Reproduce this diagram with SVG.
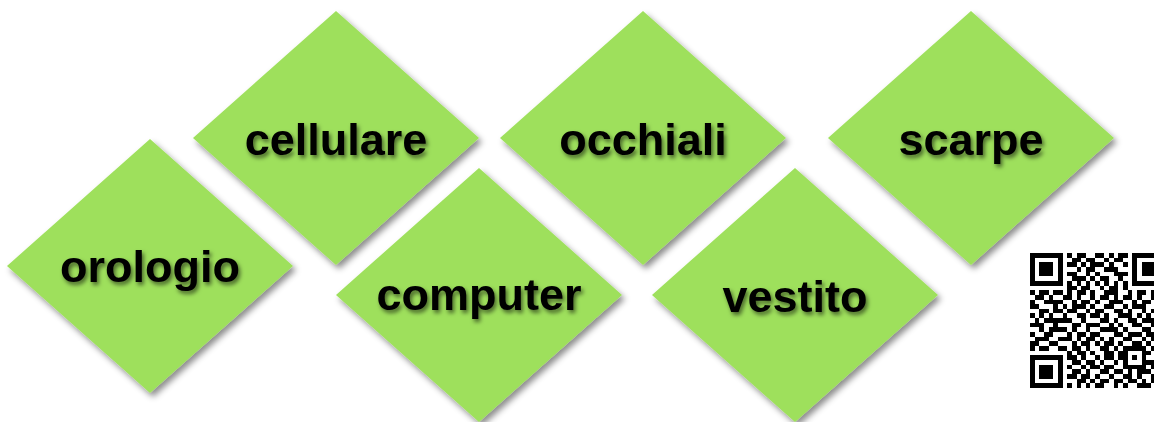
<svg xmlns="http://www.w3.org/2000/svg" width="1154" height="422" viewBox="0 0 1154 422">
<defs>
<filter id="dshadow" x="-10%" y="-10%" width="125%" height="125%">
<feDropShadow dx="3" dy="4" stdDeviation="3" flood-color="#000" flood-opacity="0.45"/>
</filter>
<filter id="tshadow" x="-10%" y="-30%" width="125%" height="170%">
<feDropShadow dx="2" dy="3" stdDeviation="2.2" flood-color="#000" flood-opacity="0.55"/>
</filter>
<polygon id="dia" points="0,-127 143,0 0,127 -143,0"/>
</defs>
<style>
.d{fill:#9ee05c;filter:url(#dshadow)}
.t{font-family:"Liberation Sans",Arial,Helvetica,sans-serif;font-weight:bold;font-size:45px;fill:#000;text-anchor:middle;filter:url(#tshadow)}
</style>
<rect width="1154" height="422" fill="#fff"/>
<g id="node-orologio" transform="translate(150 266)"><use href="#dia" class="d"/><text class="t" x="0" y="16">orologio</text></g>
<g id="node-cellulare" transform="translate(336 138)"><use href="#dia" class="d"/><text class="t" x="0" y="17">cellulare</text></g>
<g id="node-occhiali" transform="translate(643 138)"><use href="#dia" class="d"/><text class="t" x="0" y="17">occhiali</text></g>
<g id="node-scarpe" transform="translate(971 138)"><use href="#dia" class="d"/><text class="t" x="0" y="17">scarpe</text></g>
<g id="node-computer" transform="translate(479 295)"><use href="#dia" class="d"/><text class="t" x="0" y="15">computer</text></g>
<g id="node-vestito" transform="translate(795 295)"><use href="#dia" class="d"/><text class="t" x="0" y="17">vestito</text></g>
<g id="connectors"/>
<g id="qr" transform="translate(1030 253) scale(4.65)" fill="#000" shape-rendering="crispEdges">
<path fill-rule="evenodd" d="M0 0h7v7h-7z M1 1v5h5v-5z M2 2h3v3h-3z M22 0h7v7h-7z M23 1v5h5v-5z M24 2h3v3h-3z M0 22h7v7h-7z M1 23v5h5v-5z M2 24h3v3h-3z M20 20h5v5h-5z M21 21v3h3v-3z M22 22h1v1h-1z"/>
<path d="M8 0h1v1h-1z M10 0h2v1h-2z M14 0h2v1h-2z M17 0h1v1h-1z M19 0h2v1h-2z
M9 1h2v1h-2z M12 1h2v1h-2z M16 1h1v1h-1z M18 1h2v1h-2z
M8 2h2v1h-2z M11 2h1v1h-1z M13 2h3v1h-3z M17 2h1v1h-1z M20 2h1v1h-1z
M10 3h1v1h-1z M12 3h2v1h-2z M16 3h3v1h-3z
M8 4h2v1h-2z M12 4h1v1h-1z M14 4h1v1h-1z M18 4h3v1h-3z
M9 5h3v1h-3z M13 5h1v1h-1z M15 5h2v1h-2z M19 5h1v1h-1z
M8 6h1v1h-1z M10 6h1v1h-1z M12 6h1v1h-1z M14 6h1v1h-1z M16 6h1v1h-1z M18 6h1v1h-1z M20 6h1v1h-1z
M8 7h2v1h-2z M11 7h2v1h-2z M15 7h1v1h-1z M17 7h2v1h-2z M20 7h1v1h-1z
M0 8h1v1h-1z M2 8h2v1h-2z M5 8h2v1h-2z M8 8h1v1h-1z M10 8h2v1h-2z M13 8h1v1h-1z M16 8h3v1h-3z M21 8h1v1h-1z M23 8h2v1h-2z M26 8h1v1h-1z
M1 9h2v1h-2z M4 9h1v1h-1z M7 9h2v1h-2z M10 9h1v1h-1z M13 9h1v1h-1z M15 9h2v1h-2z M18 9h1v1h-1z M20 9h2v1h-2z M23 9h1v1h-1z M26 9h1v1h-1z M28 9h1v1h-1z
M0 10h1v1h-1z M3 10h4v1h-4z M9 10h1v1h-1z M11 10h2v1h-2z M14 10h1v1h-1z M17 10h3v1h-3z M22 10h1v1h-1z M24 10h2v1h-2z M27 10h1v1h-1z
M0 11h2v1h-2z M5 11h1v1h-1z M7 11h1v1h-1z M9 11h3v1h-3z M13 11h1v1h-1z M16 11h2v1h-2z M20 11h1v1h-1z M22 11h3v1h-3z M27 11h2v1h-2z
M2 12h2v1h-2z M5 12h2v1h-2z M8 12h2v1h-2z M12 12h1v1h-1z M14 12h2v1h-2z M18 12h2v1h-2z M21 12h1v1h-1z M24 12h1v1h-1z M26 12h2v1h-2z
M0 13h1v1h-1z M2 13h1v1h-1z M4 13h1v1h-1z M7 13h1v1h-1z M10 13h2v1h-2z M13 13h2v1h-2z M16 13h1v1h-1z M19 13h3v1h-3z M23 13h1v1h-1z M25 13h1v1h-1z M28 13h1v1h-1z
M1 14h1v1h-1z M3 14h6v1h-6z M11 14h1v1h-1z M15 14h2v1h-2z M18 14h1v1h-1z M21 14h2v1h-2z M24 14h3v1h-3z
M0 15h3v1h-3z M5 15h1v1h-1z M9 15h2v1h-2z M12 15h3v1h-3z M17 15h1v1h-1z M19 15h1v1h-1z M22 15h2v1h-2z M26 15h3v1h-3z
M2 16h1v1h-1z M4 16h4v1h-4z M9 16h1v1h-1z M12 16h1v1h-1z M15 16h4v1h-4z M20 16h1v1h-1z M24 16h2v1h-2z M27 16h1v1h-1z
M0 17h1v1h-1z M3 17h2v1h-2z M8 17h1v1h-1z M10 17h2v1h-2z M13 17h2v1h-2z M18 17h2v1h-2z M21 17h3v1h-3z M25 17h2v1h-2z M28 17h1v1h-1z
M1 18h3v1h-3z M6 18h3v1h-3z M10 18h1v1h-1z M12 18h2v1h-2z M15 18h1v1h-1z M17 18h1v1h-1z M20 18h2v1h-2z M24 18h1v1h-1z M26 18h2v1h-2z
M0 19h2v1h-2z M4 19h2v1h-2z M9 19h1v1h-1z M11 19h2v1h-2z M14 19h1v1h-1z M16 19h2v1h-2z M19 19h1v1h-1z M22 19h2v1h-2z M25 19h1v1h-1z M28 19h1v1h-1z
M0 20h1v1h-1z M2 20h2v1h-2z M6 20h2v1h-2z M9 20h2v1h-2z M12 20h1v1h-1z M15 20h2v1h-2z M18 20h1v1h-1z M26 20h2v1h-2z
M8 21h1v1h-1z M10 21h2v1h-2z M13 21h1v1h-1z M16 21h2v1h-2z M19 21h1v1h-1z M25 21h1v1h-1z M27 21h1v1h-1z
M8 22h2v1h-2z M11 22h1v1h-1z M14 22h1v1h-1z M16 22h2v1h-2z M19 22h1v1h-1z M27 22h2v1h-2z
M9 23h2v1h-2z M12 23h2v1h-2z M15 23h1v1h-1z M18 23h1v1h-1z M25 23h2v1h-2z M28 23h1v1h-1z
M8 24h1v1h-1z M11 24h1v1h-1z M13 24h2v1h-2z M16 24h2v1h-2z M26 24h1v1h-1z
M9 25h2v1h-2z M12 25h1v1h-1z M15 25h2v1h-2z M18 25h2v1h-2z M21 25h1v1h-1z M23 25h3v1h-3z M27 25h1v1h-1z
M8 26h2v1h-2z M11 26h2v1h-2z M14 26h1v1h-1z M17 26h1v1h-1z M20 26h2v1h-2z M23 26h1v1h-1z M26 26h1v1h-1z M28 26h1v1h-1z
M10 27h2v1h-2z M13 27h1v1h-1z M15 27h2v1h-2z M18 27h2v1h-2z M21 27h2v1h-2z M24 27h1v1h-1z M26 27h2v1h-2z
M8 28h1v1h-1z M10 28h1v1h-1z M12 28h1v1h-1z M14 28h2v1h-2z M18 28h1v1h-1z M20 28h1v1h-1z M23 28h3v1h-3z M27 28h2v1h-2z"/>
</g>
</svg>
